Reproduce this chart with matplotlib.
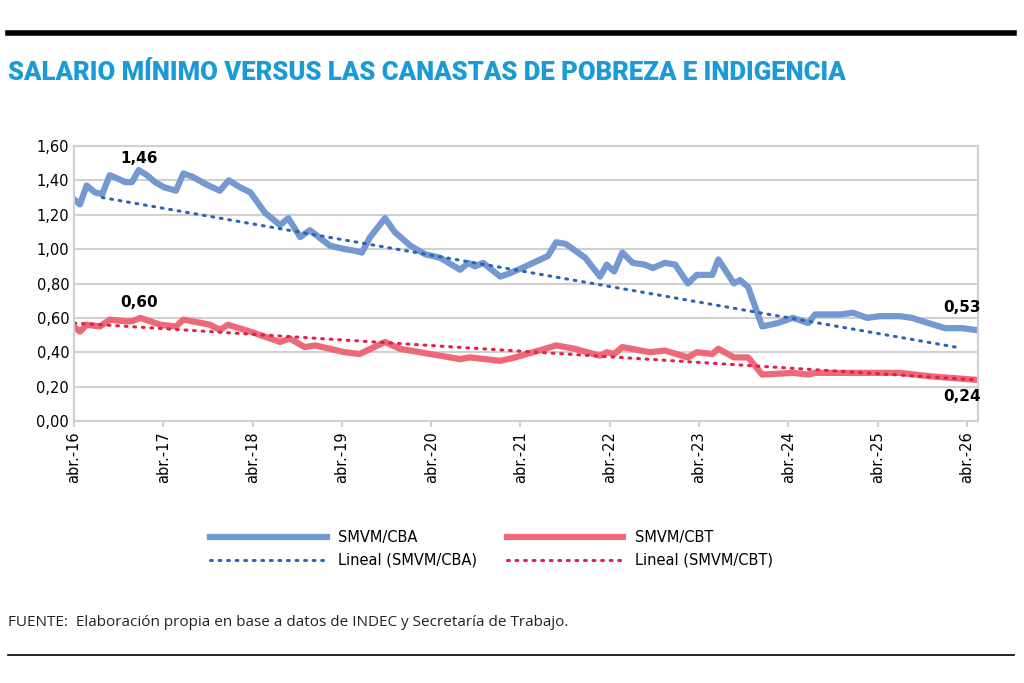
import matplotlib
matplotlib.use("Agg")
import matplotlib.pyplot as plt
import numpy as np
from matplotlib.lines import Line2D

tick_labels = ["abr.-16","abr.-17","abr.-18","abr.-19","abr.-20","abr.-21","abr.-22","abr.-23","abr.-24","abr.-25","abr.-26"]
cba_m = [0,0.8,1.7,2.8,3.8,4.8,5.9,6.9,7.8,8.7,9.8,10.9,12.1,13.7,14.7,16,17.6,19.6,20.8,22.3,23.7,25.7,27.7,28.8,30.4,31.7,34.4,36.4,37.8,38.7,39.8,41.8,43.1,45.2,47.2,49.2,51.9,53,53.9,55,57.3,58.6,60.2,63.7,64.8,66.1,68.7,70.7,71.6,72.6,73.7,75.1,76.7,77.8,79.4,80.8,82.5,83.7,85.8,86.6,88.7,89.5,90.6,92.5,94.6,96.6,98.7,99.6,103,104.7,106.6,108.3,111,112.6,114.8,117.1,119.4,121.1]
cba_v = [1.29,1.26,1.37,1.33,1.32,1.43,1.41,1.39,1.39,1.46,1.43,1.39,1.36,1.34,1.44,1.42,1.38,1.34,1.40,1.36,1.33,1.21,1.14,1.18,1.07,1.11,1.02,1.00,0.99,0.98,1.07,1.18,1.10,1.02,0.97,0.95,0.88,0.92,0.90,0.92,0.84,0.86,0.89,0.96,1.04,1.03,0.95,0.84,0.91,0.87,0.98,0.92,0.91,0.89,0.92,0.91,0.80,0.85,0.85,0.94,0.80,0.82,0.78,0.55,0.57,0.60,0.57,0.62,0.62,0.63,0.60,0.61,0.61,0.60,0.57,0.54,0.54,0.53]
cbt_m = [0,0.8,1.7,3.5,4.8,6.9,7.8,8.9,11.6,13.7,14.7,18.3,19.6,20.7,23.7,27.7,29,31,32.4,34.4,36.4,38.4,41.8,43.8,46.5,49.2,51.9,53.2,57.3,59.3,63.3,64.8,67.3,70.7,71.6,72.6,73.7,77.4,79.4,82.5,83.7,85.8,86.6,88.7,90.6,92.5,96.6,98.7,99.6,107,111,115.1,121.1]
cbt_v = [0.55,0.52,0.56,0.55,0.59,0.58,0.58,0.60,0.56,0.55,0.59,0.56,0.53,0.56,0.52,0.46,0.48,0.43,0.44,0.42,0.40,0.39,0.46,0.42,0.40,0.38,0.36,0.37,0.35,0.37,0.42,0.44,0.42,0.38,0.40,0.39,0.43,0.40,0.41,0.37,0.40,0.39,0.42,0.37,0.37,0.27,0.28,0.27,0.28,0.28,0.28,0.26,0.24]
trend_cba_m = [3.8, 118.5]
trend_cba_v = [1.30, 0.43]
trend_cbt_m = [0, 121]
trend_cbt_v = [0.57, 0.24]

blue = "#7399d0"; red = "#ec6a78"; dblue = "#2e63b5"; dred = "#e0214a"
fig = plt.figure(figsize=(10.24, 6.83), dpi=100)
fig.add_artist(Line2D([0.008, 0.99], [1-33/683]*2, color="black", lw=4))
fig.add_artist(Line2D([0.008, 0.99], [1-655/683]*2, color="black", lw=1.2))
fig.text(0.008, 1-73/683, "SALARIO MÍNIMO VERSUS LAS CANASTAS DE POBREZA E INDIGENCIA",
         color="#1a9ad6", fontsize=18.5, fontweight="heavy", va="center", family="Roboto")
fig.text(0.008, 1-622/683, "FUENTE:  Elaboración propia en base a datos de INDEC y Secretaría de Trabajo.",
         fontsize=11, va="center", color="#222222", family="Open Sans")

ax = fig.add_axes([74/1024, 1-421/683, (978-74)/1024, 275/683])
l1, = ax.plot(cba_m, cba_v, color=blue, lw=4.5, label="SMVM/CBA")
l2, = ax.plot(cbt_m, cbt_v, color=red, lw=4.5, label="SMVM/CBT")
l3, = ax.plot(trend_cba_m, trend_cba_v, color=dblue, lw=2.2, ls=(0, (0.6, 2.2)), dash_capstyle="round", label="Lineal (SMVM/CBA)")
l4, = ax.plot(trend_cbt_m, trend_cbt_v, color=dred, lw=2.2, ls=(0, (0.6, 2.2)), dash_capstyle="round", label="Lineal (SMVM/CBT)")
ax.set_xlim(0, 121.5); ax.set_ylim(0, 1.6)
yt = np.arange(0, 1.61, 0.2)
ax.set_yticks(yt)
ax.set_yticklabels([f"{v:.2f}".replace(".", ",") for v in yt], fontsize=10.5)
ax.set_xticks(np.arange(0, 121, 12))
ax.set_xticklabels(tick_labels, rotation=90, fontsize=10.5)
ax.grid(axis="y", color="#d0d0d0", lw=1.5)
ax.set_axisbelow(True)
for s in ax.spines.values():
    s.set_color("#d0d0d0"); s.set_linewidth(1.5)
ax.tick_params(length=4, color="#d0d0d0", width=1.5)
ax.tick_params(axis="y", length=0)
kw = dict(fontsize=11, fontweight="bold", ha="center", va="center")
ax.text(8.7, 1.53, "1,46", **kw)
ax.text(8.7, 0.69, "0,60", **kw)
ax.text(119.3, 0.66, "0,53", **kw)
ax.text(119.3, 0.145, "0,24", **kw)
fig.legend([l1, l3, l2, l4], [l1.get_label(), l3.get_label(), l2.get_label(), l4.get_label()],
           loc="center", bbox_to_anchor=(0.48, 1-549/683),
           ncol=2, frameon=False, fontsize=10.5, handlelength=8, columnspacing=2)
fig.savefig("out.png", dpi=100)
